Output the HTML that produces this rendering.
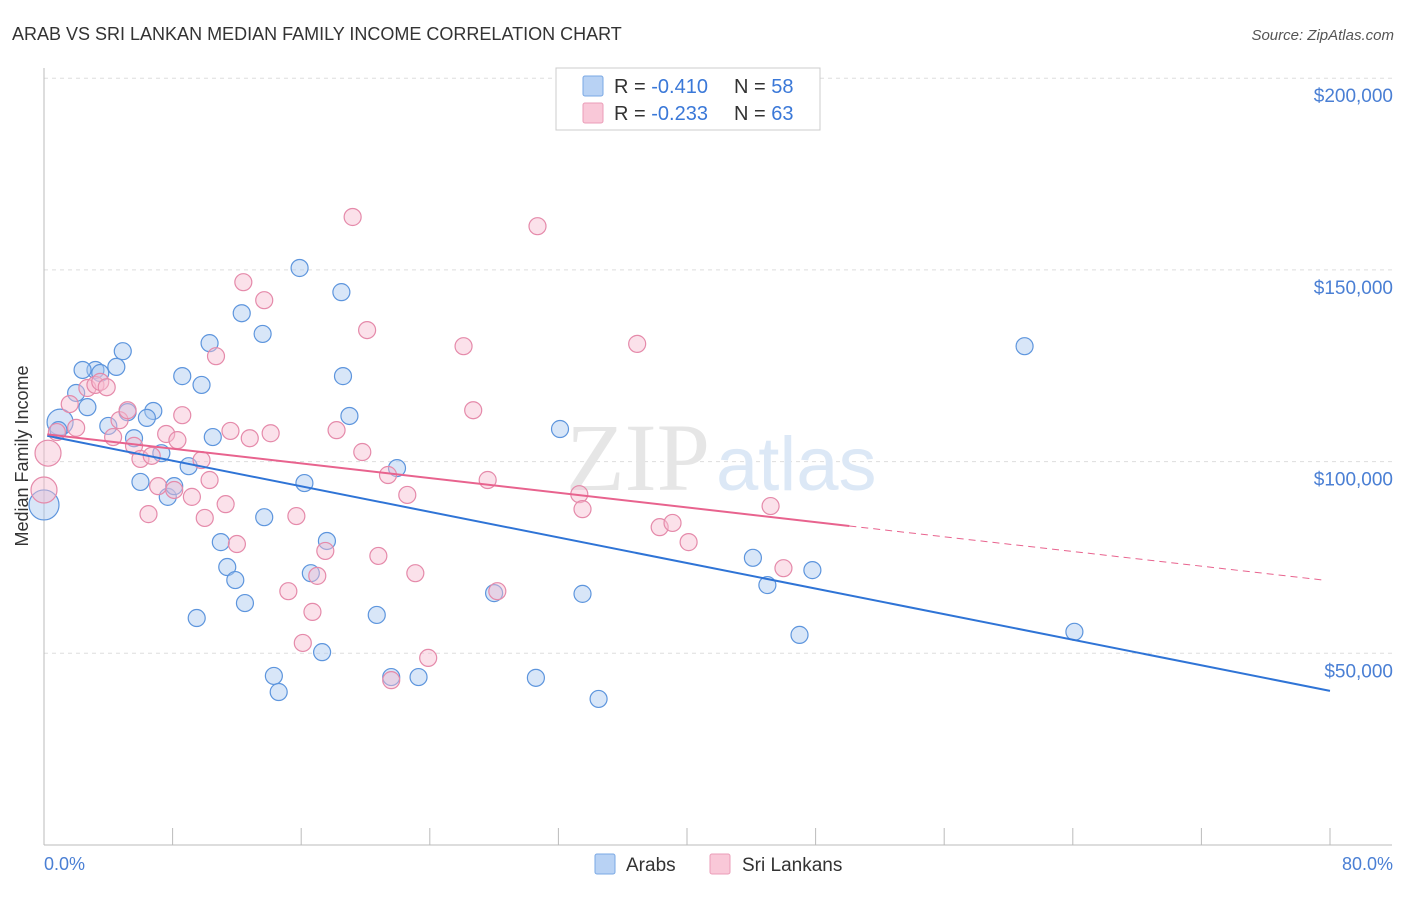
<!DOCTYPE html>
<html><head><meta charset="utf-8"><style>
body{margin:0;background:#fff;font-family:"Liberation Sans",sans-serif;}
</style></head><body>
<svg width="1406" height="892" viewBox="0 0 1406 892" xmlns="http://www.w3.org/2000/svg">
<text x="12" y="40" font-size="18" fill="#333">ARAB VS SRI LANKAN MEDIAN FAMILY INCOME CORRELATION CHART</text>
<text x="1394" y="40" font-size="15" fill="#555" font-style="italic" text-anchor="end">Source: ZipAtlas.com</text>
<g id="grid"></g>
<text x="710" y="490" font-size="96" fill="#e6e6e6" text-anchor="end" font-family="Liberation Serif,serif">ZIP</text>
<text x="716" y="490" font-size="76" fill="#dce8f6">atlas</text>
<g id="axes"></g>
<g id="pts"></g>
<g id="trend"></g>
<text x="28" y="456" font-size="18" fill="#333" text-anchor="middle" transform="rotate(-90 28 456)">Median Family Income</text>
<text x="44" y="870" font-size="18" fill="#4a7fd4">0.0%</text>
<text x="1393" y="870" font-size="18" fill="#4a7fd4" text-anchor="end">80.0%</text>
<g>
<rect x="556" y="68" width="264" height="62" fill="#fff" stroke="#ccc"/>
<rect x="583" y="76" width="20" height="20" fill="#b8d2f4" stroke="#7aa8e4" rx="2"/>
<rect x="583" y="103" width="20" height="20" fill="#f9c8d8" stroke="#eb9db8" rx="2"/>
<text x="614" y="93" font-size="20" fill="#333">R = <tspan fill="#3a78d8">-0.410</tspan></text>
<text x="734" y="93" font-size="20" fill="#333">N = <tspan fill="#3a78d8">58</tspan></text>
<text x="614" y="120" font-size="20" fill="#333">R = <tspan fill="#3a78d8">-0.233</tspan></text>
<text x="734" y="120" font-size="20" fill="#333">N = <tspan fill="#3a78d8">63</tspan></text>
</g>
<g>
<rect x="595" y="854" width="20" height="20" fill="#b8d2f4" stroke="#7aa8e4" rx="2"/>
<text x="626" y="871" font-size="19" fill="#333">Arabs</text>
<rect x="710" y="854" width="20" height="20" fill="#f9c8d8" stroke="#eb9db8" rx="2"/>
<text x="742" y="871" font-size="19" fill="#333">Sri Lankans</text>
</g>
</svg>
<script>
const yTicks=[50000,100000,150000,200000];
const yTickLabels=["$50,000","$100,000","$150,000","$200,000"];
const arabX=[0,1.0,0.9,2.7,3.2,2.4,3.5,2.0,4.9,4.5,4.0,5.2,5.6,6.8,6.4,7.3,6.0,7.7,8.1,8.6,9.0,9.8,9.5,10.3,10.5,11.0,11.4,11.9,12.3,12.5,13.6,13.7,14.3,14.6,15.9,16.2,16.6,17.3,17.6,18.5,18.6,19.0,20.7,21.6,21.96,23.3,28.0,30.6,32.1,33.5,34.5,44.1,45.0,47.0,47.8,61.0,64.1];
const arabY=[88.7,110.3,108.2,114.2,123.9,123.9,123.1,117.9,128.8,124.7,109.3,112.9,106.1,113.2,111.4,102.2,94.7,90.8,93.6,122.3,98.8,120.0,59.2,130.9,106.4,79.0,72.5,69.1,138.7,63.1,133.3,85.5,44.1,39.9,150.5,94.4,70.9,50.3,79.3,144.2,122.3,111.9,60.0,43.8,98.3,43.8,65.7,43.6,108.5,65.5,38.1,74.9,67.8,54.8,71.7,130.1,55.6];
const sriX=[0.25,0,0.8,1.6,2.0,2.7,3.2,3.5,3.9,4.3,4.7,5.2,5.6,6.0,6.5,6.7,7.1,7.6,8.3,8.6,8.1,9.2,9.8,10.0,10.3,10.7,11.3,11.6,12.0,12.4,12.8,13.7,14.1,15.2,15.7,16.1,16.7,17.0,17.5,18.2,19.2,19.8,20.1,20.8,21.4,21.6,22.6,23.1,23.9,26.1,26.7,27.6,28.2,30.7,33.3,33.5,36.9,38.3,39.1,40.1,45.2,46.0];
const sriY=[102.2,92.6,107.7,115.0,108.8,119.2,120.0,120.8,119.4,106.4,110.8,113.4,104.1,100.7,86.3,101.5,93.6,107.2,105.6,112.1,92.6,90.8,100.4,85.3,95.2,127.5,88.9,108.0,78.5,146.8,106.1,142.1,107.4,66.2,85.8,52.7,60.8,70.2,76.7,108.2,163.8,102.5,134.3,75.4,96.5,43.0,91.3,70.9,48.8,130.1,113.4,95.2,66.2,161.4,91.5,87.6,130.7,82.9,84.0,79.0,88.4,72.2];
const arabTrend=[106.9,40.2];
const sriTrend=[107.2,68.9];
const sriSolidEnd=50.1;
const NS="http://www.w3.org/2000/svg";
const X=p=>44+p*16.075;
const Y=v=>845-v/50*191.7;
function mk(t,a,parent){const e=document.createElementNS(NS,t);for(const k in a)e.setAttribute(k,a[k]);parent.appendChild(e);return e;}
const grid=document.getElementById('grid'),axes=document.getElementById('axes');
yTicks.forEach((t,i)=>{const y=Y(t/1000);
const l=mk('line',{x1:44,x2:1392,y1:y,y2:y,stroke:'#ddd','stroke-dasharray':'4,4'},grid);


const tx=mk('text',{x:1393,y:y+24,'font-size':19,fill:'#4a7fd4','text-anchor':'end'},axes);
tx.textContent=yTickLabels[i];

});
mk('line',{x1:44,x2:44,y1:68,y2:845,stroke:'#bbb'},axes);
mk('line',{x1:44,x2:1392,y1:845,y2:845,stroke:'#bbb'},axes);
for(let k=0;k<=10;k++){const x=X(k*8);const t=mk('line',{x1:x,x2:x,y1:828,y2:845,stroke:'#bbb'},axes);

}
const pts=document.getElementById('pts');
function drawPts(xs,ys,fill,stroke,name){xs.forEach((x,i)=>{const r=(i<2&&x<1.1)?(name==='arab-point'&&i===0?15:13):8.5;
const c=mk('circle',{cx:X(x),cy:Y(ys[i]),r:r,fill:fill,'fill-opacity':0.45,stroke:stroke,'stroke-width':1.2},pts);

});}
drawPts(arabX,arabY,'#a8c8f0','#5d95dd','arab-point');
drawPts(sriX,sriY,'#f7bcd0','#e58aaa','sri-lankan-point');
const tr=document.getElementById('trend');
const f=(a,p)=>a[0]+(a[1]-a[0])*p/80;
const b=mk('line',{x1:X(0.2),y1:Y(f(arabTrend,0.2)),x2:X(80),y2:Y(f(arabTrend,80)),stroke:'#2f74d6','stroke-width':2},tr);


const p1=mk('line',{x1:X(0.2),y1:Y(f(sriTrend,0.2)),x2:X(sriSolidEnd),y2:Y(f(sriTrend,sriSolidEnd)),stroke:'#e8638e','stroke-width':2},tr);


const p2=mk('line',{x1:X(sriSolidEnd),y1:Y(f(sriTrend,sriSolidEnd)),x2:X(79.7),y2:Y(f(sriTrend,79.7)),stroke:'#e8638e','stroke-width':1,'stroke-dasharray':'7,5'},tr);


</script>
</body></html>
